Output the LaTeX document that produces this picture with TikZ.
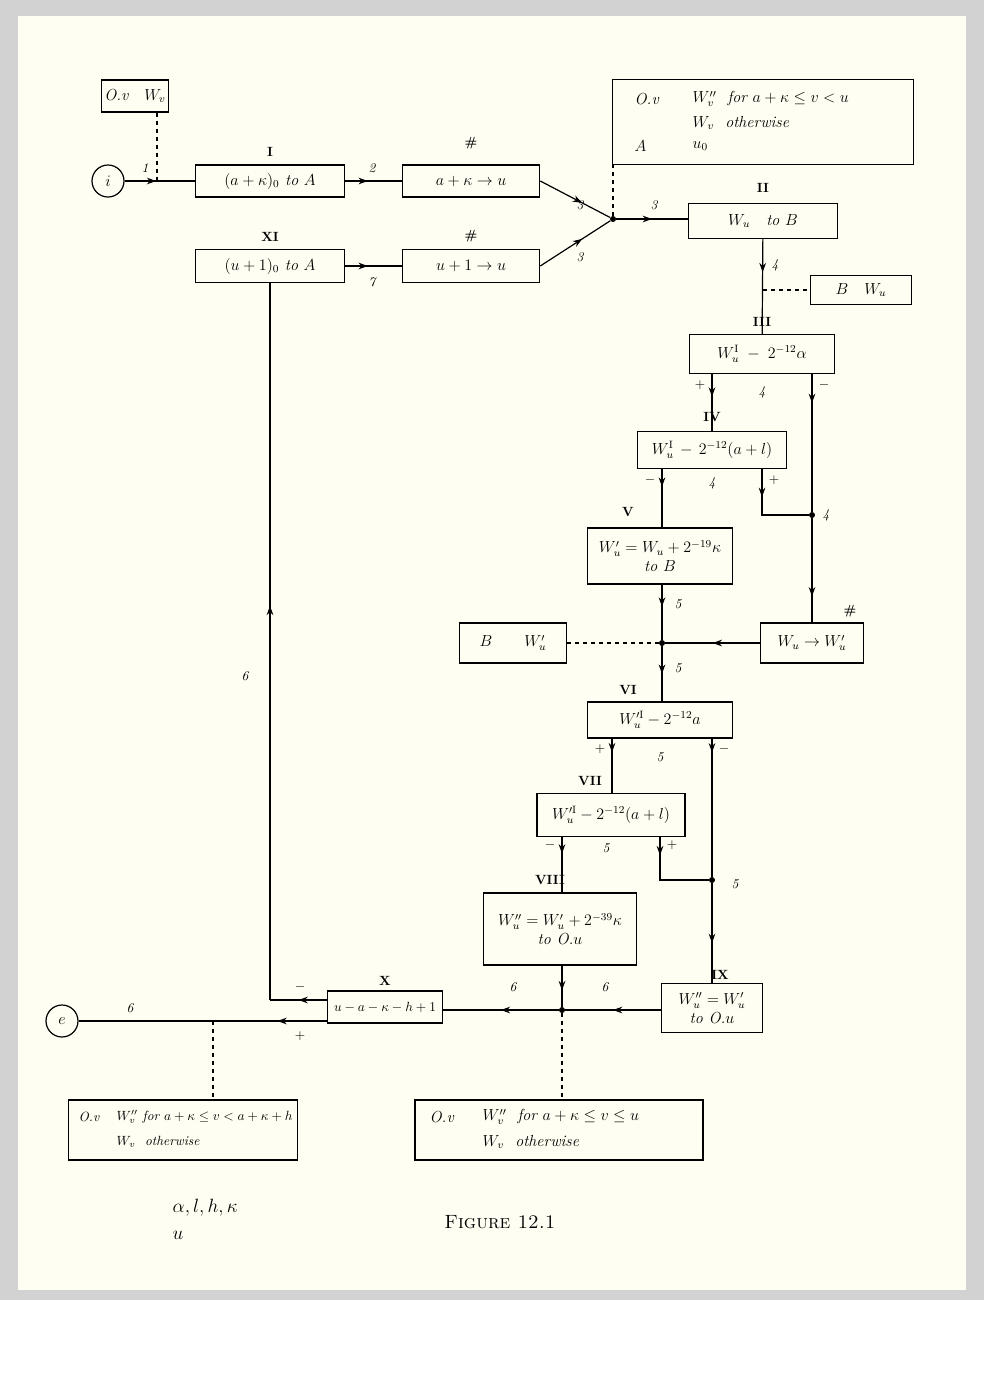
\documentclass[tikz,border=0pt]{standalone}
\usetikzlibrary{arrows.meta,decorations.markings}
\begin{document}
\begin{tikzpicture}[x=0.75pt,y=-0.75pt,
  box/.style={draw,line width=0.9pt,inner sep=2pt,align=center,font=\large\itshape},
  lab/.style={font=\bfseries},
  num/.style={font=\itshape},
  txt/.style={font=\large\itshape,anchor=west},
  ln/.style={line width=0.9pt},
  dsh/.style={dashed,line width=0.8pt},
  marr/.style={ln,postaction={decorate},decoration={markings,mark=at position #1 with {\arrow{Stealth[length=7pt,width=5pt]}}}},
  dot/.style={circle,fill,inner sep=1.6pt}]
\fill[white] (0,0) rectangle (984,1390);
\fill[gray!35] (0,0) rectangle (984,1300);
\fill[yellow!5!white] (18,16) rectangle (966,1290);
\useasboundingbox (0,0) rectangle (984,1390);
% nodes
\node[box,minimum width=48pt,minimum height=24pt] (ov1) at (135,96) {O.v\quad $W_v$};
\node[draw,ln,circle,minimum size=24pt,inner sep=0pt,font=\large\itshape] (i) at (108,181) {$i$};
\node[box,minimum width=112pt,minimum height=24pt] (I) at (270,181) {$(a+\kappa)_0$ to $A$};
\node[lab] at (270,152) {I};
\node[box,minimum width=103pt,minimum height=24pt] (H1) at (471,181) {$a+\kappa\rightarrow u$};
\node[lab] at (471,143) {\#};
\node[dot] (J1) at (613,219) {};
\node[draw,ln,minimum width=226pt,minimum height=64pt] (TR) at (763,122) {};
\node[txt] at (630,99) {O.v};
\node[txt] at (688,99) {$W_v''$\ \ for $a+\kappa\leq v<u$};
\node[txt] at (688,123) {$W_v$\ \ otherwise};
\node[txt] at (630,146) {$A$};
\node[txt] at (688,146) {$u_0$};
\node[box,minimum width=112pt,minimum height=26pt] (II) at (763,221) {$W_u$\quad to $B$};
\node[lab] at (763,188) {II};
\node[box,minimum width=112pt,minimum height=25pt] (XI) at (270,266) {$(u+1)_0$ to $A$};
\node[lab] at (270,237) {XI};
\node[box,minimum width=103pt,minimum height=25pt] (H2) at (471,266) {$u+1\rightarrow u$};
\node[lab] at (471,236) {\#};
\node[box,minimum width=76pt,minimum height=22pt] (BW) at (861,290) {$B$\quad $W_u$};
\coordinate (bwj) at (763,290);
\node[box,minimum width=109pt,minimum height=29pt] (III) at (762,354) {$W_u^{\mathrm I}\;-\;2^{-12}\alpha$};
\node[lab] at (762,322) {III};
\node[box,minimum width=112pt,minimum height=28pt,inner sep=1pt] (IV) at (712,450) {$W_u^{\mathrm I}\,-\,2^{-12}(a+l)$};
\node[lab] at (712,417) {IV};
\node[dot] (J4) at (812,515) {};
\node[box,minimum width=109pt,minimum height=42pt] (V) at (660,556) {$W_u'=W_u+2^{-19}\kappa$\\ to $B$};
\node[lab] at (628,512) {V};
\node[dot] (J5) at (662,643) {};
\node[box,minimum width=80pt,minimum height=30pt] (BW2) at (513,643) {$B$\qquad $W_u'$};
\node[box,minimum width=77pt,minimum height=30pt] (H3) at (812,643) {$W_u\rightarrow W_u'$};
\node[lab] at (850,611) {\#};
\node[box,minimum width=109pt,minimum height=27pt] (VI) at (660,720) {$W_u^{\prime\mathrm{I}}-2^{-12}a$};
\node[lab] at (628,690) {VI};
\node[box,minimum width=111pt,minimum height=32pt,inner sep=1pt] (VII) at (611,815) {$W_u^{\prime\mathrm{I}}-2^{-12}(a+l)$};
\node[lab] at (590,781) {VII};
\node[dot] (J6) at (712,880) {};
\node[box,minimum width=115pt,minimum height=54pt] (VIII) at (560,929) {$W_u''=W_u'+2^{-39}\kappa$\\ to O.$u$};
\node[lab] at (550,880) {VIII};
\node[box,minimum width=76pt,minimum height=37pt] (IX) at (712,1008) {$W_u''=W_u'$\\ to O.$u$};
\node[lab] at (720,975) {IX};
\node[dot] (J7) at (562,1010) {};
\node[box,minimum width=86pt,minimum height=24pt,font=\itshape,inner sep=1pt] (X) at (385,1007) {$u-a-\kappa-h+1$};
\node[lab] at (385,981) {X};
\node[draw,ln,circle,minimum size=24pt,inner sep=0pt,font=\large\itshape] (e) at (62,1021) {$e$};
\coordinate (xm) at (270,1000);
\coordinate (ej) at (213,1021);
\node[draw,ln,minimum width=172pt,minimum height=45pt] (BL) at (183,1130) {};
\node[txt,font=\itshape] at (74,1117) {O.v};
\node[txt,font=\itshape] at (112,1117) {$W_v''$ for $a+\kappa\leq v<a+\kappa+h$};
\node[txt,font=\itshape] at (112,1142) {$W_v$\ \ otherwise};
\node[draw,ln,minimum width=216pt,minimum height=45pt] (BR) at (559,1130) {};
\node[txt] at (425,1117) {O.v};
\node[txt] at (478,1117) {$W_v''$\ \ for $a+\kappa\leq v\leq u$};
\node[txt] at (478,1142) {$W_v$\ \ otherwise};
\node[txt,font=\Large\itshape] at (168,1208) {$\alpha, l, h, \kappa$};
\node[txt,font=\Large\itshape] at (168,1235) {$u$};
\node[font=\Large\scshape] at (500,1222) {Figure 12.1};
% connectors
\coordinate (d1) at (157,181);
\draw[marr=0.45] (i) -- (I.west);
\draw[dsh] (ov1.south -| d1) -- (d1);
\node[num] at (145,168) {1};
\draw[marr=0.4] (I) -- (H1);
\node[num] at (372,168) {2};
\draw[marr=0.6] (H1.east) -- (J1);
\draw[marr=0.6] (H2.east) -- (J1);
\node[num] at (580,205) {3};
\node[num] at (580,257) {3};
\draw[marr=0.5] (J1) -- (II.west |- J1);
\node[num] at (654,205) {3};
\draw[dsh] (J1) -- (J1 |- TR.south);
\draw[marr=0.4] (XI) -- (H2);
\node[num] at (372,282) {7};
\draw[marr=0.35] (II) -- (III);
\node[num] at (775,265) {4};
\draw[dsh] (bwj) -- (BW.west);
\draw[marr=0.4] (III.south -| IV) -- (IV.north);
\node at (700,385) {+};
\node[num] at (762,392) {4};
\draw[marr=0.12] (III.south -| J4) -- (J4) -- (J4 |- H3.north);
\node at (824,385) {$-$};
\draw[marr=0.3] (IV.south -| J5) -- (V.north -| J5);
\node at (650,480) {$-$};
\node[num] at (712,483) {4};
\draw[marr=0.3] (IV.south -| 762,0) |- (J4);
\node at (774,480) {+};
\node[num] at (826,515) {4};
\draw[marr=0.75] (J4) -- (J4 |- H3.north);
\draw[marr=0.4] (V.south -| J5) -- (J5);
\node[num] at (678,604) {5};
\draw[dsh] (J5) -- (BW2.east);
\draw[marr=0.5] (H3.west) -- (J5);
\draw[marr=0.5] (J5) -- (VI.north -| J5);
\node[num] at (678,668) {5};
\draw[marr=0.25] (VI.south -| 612,0) -- (VII.north -| 612,0);
\node at (600,749) {+};
\node[num] at (660,757) {5};
\draw[marr=0.1] (VI.south -| J6) -- (J6);
\node at (724,749) {$-$};
\draw[marr=0.3] (VII.south -| J7) -- (VIII.north -| J7);
\node at (550,845) {$-$};
\node[num] at (606,848) {5};
\draw[marr=0.2] (VII.south -| 660,0) |- (J6);
\node at (672,845) {+};
\node[num] at (735,884) {5};
\draw[marr=0.6] (J6) -- (IX.north -| J6);
\draw[marr=0.6] (VIII.south -| J7) -- (J7);
\draw[marr=0.5] (IX.west |- J7) -- (J7);
\node[num] at (605,987) {6};
\draw[marr=0.5] (J7) -- (X.east |- J7);
\node[num] at (513,987) {6};
\draw[marr=0.5] (X.west |- xm) -- (xm);
\draw[marr=0.55] (xm) -- (XI.south);
\node at (300,987) {$-$};
\node[num] at (245,676) {6};
\draw[marr=0.2] (X.west |- ej) -- (e);
\node at (300,1036) {+};
\node[num] at (130,1008) {6};
\draw[dsh] (ej) -- (ej |- BL.north);
\draw[dsh] (J7) -- (J7 |- BR.north);
\end{tikzpicture}
\end{document}
